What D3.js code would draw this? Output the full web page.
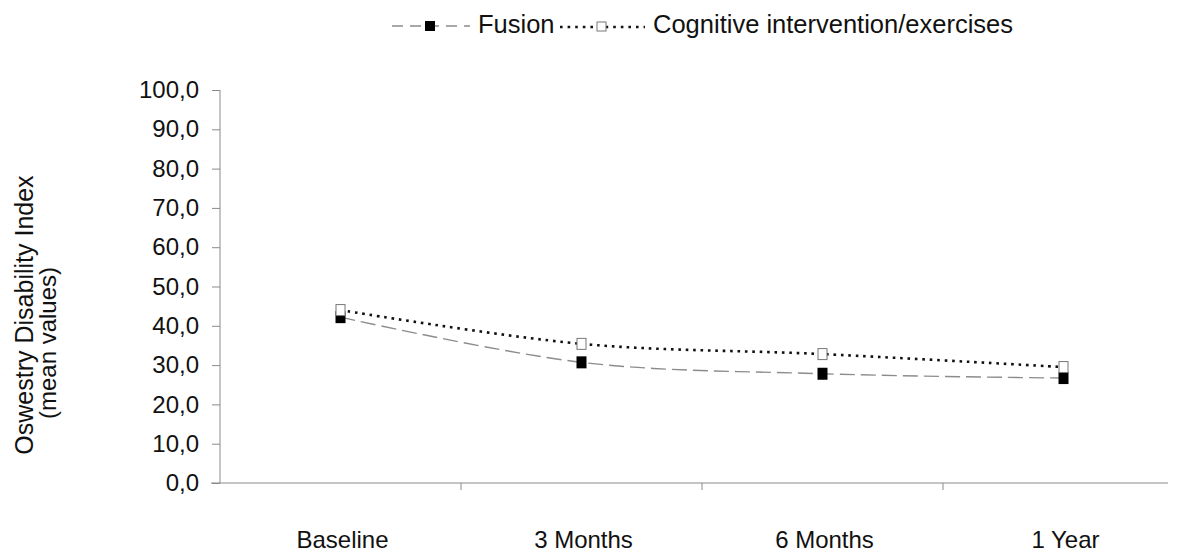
<!DOCTYPE html>
<html>
<head>
<meta charset="utf-8">
<script src="https://cdn.jsdelivr.net/npm/d3@7"></script>
<style>
  body { margin: 0; background: #fff; }
  text { font-family: "Liberation Sans", Arial, sans-serif; fill: #111; }
</style>
</head>
<body>
<div id="chart"></div>
<script>
let timepoints = ["Baseline", "3 Months", "6 Months", "1 Year"];
let fusion = [42.2, 30.7, 27.8, 26.7];
let cognitive = [44.0, 35.4, 32.8, 29.5];
let yTicks = [0, 10, 20, 30, 40, 50, 60, 70, 80, 90, 100];
let seriesNames = ["Fusion", "Cognitive intervention/exercises"];

let fontSize = 24;

let svg = d3.select('#chart')
    .append('svg')
    .attr('width', 1177)
    .attr('height', 553);

let x = d3.scaleBand().domain(timepoints).range([220, 1184]);
let y = d3.scaleLinear().domain([0, 100]).range([483, 90]);
let axisColor = '#8a8a8a';

// y axis
let yAxis = svg.append('g')
    .attr('transform', 'translate(220,0)')
    .call(d3.axisLeft(y).tickValues(yTicks).tickSize(8).tickPadding(13)
        .tickFormat(function (d) { return d3.format('.1f')(d).replace('.', ','); }));
yAxis.select('.domain').attr('stroke', axisColor).attr('d', 'M0,' + y(100) + 'V' + y(0));
yAxis.selectAll('line').attr('stroke', axisColor);
yAxis.selectAll('text')
    .attr('font-size', fontSize)
    .attr('font-family', '"Liberation Sans", Arial, sans-serif')
    .attr('fill', '#111');

// x axis
let xAxis = svg.append('g').attr('transform', 'translate(0,483)');
xAxis.append('line').attr('x1', 211).attr('x2', 1168).attr('stroke', axisColor);
xAxis.selectAll('line.tick')
    .data(timepoints.slice(1))
    .enter().append('line')
    .attr('class', 'tick')
    .attr('x1', function (d) { return x(d); })
    .attr('x2', function (d) { return x(d); })
    .attr('y1', 0).attr('y2', 7)
    .attr('stroke', axisColor);
xAxis.selectAll('text')
    .data(timepoints)
    .enter().append('text')
    .attr('x', function (d) { return x(d) + x.bandwidth() / 2 + 2; })
    .attr('y', 65)
    .attr('text-anchor', 'middle')
    .attr('font-size', fontSize)
    .text(function (d) { return d; });

// y title
svg.append('text')
    .attr('transform', 'translate(33,315) rotate(-90)')
    .attr('text-anchor', 'middle')
    .attr('font-size', 25)
    .text('Oswestry Disability Index');
svg.append('text')
    .attr('transform', 'translate(56,343) rotate(-90)')
    .attr('text-anchor', 'middle')
    .attr('font-size', fontSize)
    .text('(mean values)');

let line = d3.line()
    .x(function (d, i) { return x(timepoints[i]) + x.bandwidth() / 2; })
    .y(function (d) { return y(d); })
    .curve(d3.curveCatmullRom.alpha(0.5));

// fusion
svg.append('path')
    .datum(fusion)
    .attr('d', line)
    .attr('fill', 'none')
    .attr('stroke', '#8c8c8c')
    .attr('stroke-width', 1.4)
    .attr('stroke-dasharray', '15,6');

// cognitive
svg.append('path')
    .datum(cognitive)
    .attr('d', line)
    .attr('fill', 'none')
    .attr('stroke', '#111')
    .attr('stroke-width', 2.6)
    .attr('stroke-dasharray', '2.6,4.8');

svg.selectAll('rect.fus')
    .data(fusion)
    .enter().append('rect')
    .attr('class', 'fus')
    .attr('x', function (d, i) { return x(timepoints[i]) + x.bandwidth() / 2 - 5; })
    .attr('y', function (d) { return y(d) - 6; })
    .attr('width', 10).attr('height', 12)
    .attr('fill', '#000');

svg.selectAll('rect.cog')
    .data(cognitive)
    .enter().append('rect')
    .attr('class', 'cog')
    .attr('x', function (d, i) { return x(timepoints[i]) + x.bandwidth() / 2 - 4.5; })
    .attr('y', function (d) { return y(d) - 5.5; })
    .attr('width', 9).attr('height', 11)
    .attr('fill', '#fff')
    .attr('stroke', '#777')
    .attr('stroke-width', 1);

// legend
let lg = svg.append('g');
lg.append('line').attr('x1', 392).attr('x2', 470).attr('y1', 26).attr('y2', 26)
    .attr('stroke', '#8c8c8c').attr('stroke-width', 1.4).attr('stroke-dasharray', '11,7');
lg.append('rect').attr('x', 425).attr('y', 21).attr('width', 10).attr('height', 10).attr('fill', '#000');
lg.append('text').attr('x', 478).attr('y', 33).attr('font-size', 25.5).text(seriesNames[0]);
lg.append('line').attr('x1', 560).attr('x2', 645).attr('y1', 27).attr('y2', 27)
    .attr('stroke', '#111').attr('stroke-width', 2.6).attr('stroke-dasharray', '2.6,5');
lg.append('rect').attr('x', 597).attr('y', 22).attr('width', 9).attr('height', 9)
    .attr('fill', '#fff').attr('stroke', '#777');
lg.append('text').attr('x', 653).attr('y', 33).attr('font-size', 25.5).text(seriesNames[1]);
</script>
</body>
</html>
